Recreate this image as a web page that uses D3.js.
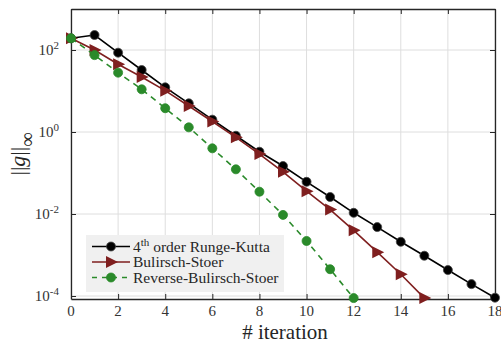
<!DOCTYPE html>
<html>
<head>
<meta charset="utf-8">
<script src="https://cdn.jsdelivr.net/npm/d3@7"></script>
<style>
  body { margin: 0; background: #fff; }
</style>
</head>
<body>
<svg width="501" height="345"></svg>
<script>
const iterRK = d3.range(0, 19);
const valRK = [193, 232, 86, 32.5, 12.3, 5.0, 2.0, 0.81, 0.33, 0.148, 0.061, 0.026, 0.0107, 0.0048, 0.0021, 0.00096, 0.00043, 0.000195, 0.000091];
const iterBS = d3.range(0, 16);
const valBS = [193, 100, 45, 22, 10.2, 4.3, 1.8, 0.74, 0.29, 0.107, 0.036, 0.0128, 0.0040, 0.00117, 0.00034, 0.000089];
const iterRBS = d3.range(0, 13);
const valRBS = [193, 75, 28, 11, 3.8, 1.3, 0.40, 0.123, 0.035, 0.0095, 0.0022, 0.00045, 0.000089];
const xTicks = [0, 2, 4, 6, 8, 10, 12, 14, 16, 18];
const yTickExp = [-4, -2, 0, 2];
const seriesNames = ['order Runge-Kutta', 'Bulirsch-Stoer', 'Reverse-Bulirsch-Stoer'];

const svg = d3.select('svg');
const margin = {top: 9, right: 6, bottom: 46, left: 71};
const width = 495 - margin.left;
const height = 299 - margin.top;

const x = d3.scaleLinear().domain([0, 18]).range([0, width]);
const y = d3.scaleLog().domain([Math.pow(10, -4.073), 1000]).range([height, 0]);

const g = svg.append('g').attr('transform', `translate(${margin.left},${margin.top})`);

// grid
g.append('g').selectAll('line').data(xTicks).enter().append('line')
  .attr('x1', d => x(d)).attr('x2', d => x(d)).attr('y1', 0).attr('y2', height)
  .attr('stroke', '#dedede').attr('stroke-width', 1);
g.append('g').selectAll('line').data(yTickExp).enter().append('line')
  .attr('y1', d => y(Math.pow(10, d))).attr('y2', d => y(Math.pow(10, d))).attr('x1', 0).attr('x2', width)
  .attr('stroke', '#dedede').attr('stroke-width', 1);

// axes (ticks only, labels drawn separately)
const xAxis = d3.axisBottom(x).tickValues(xTicks).tickSizeInner(-5).tickSizeOuter(0).tickFormat('');
g.append('g').attr('transform', `translate(0,${height})`).call(xAxis);
const xTop = d3.axisTop(x).tickValues(xTicks).tickSizeInner(-5).tickSizeOuter(0).tickFormat('');
g.append('g').call(xTop);
const yAxis = d3.axisLeft(y).tickValues(yTickExp.map(e => Math.pow(10, e))).tickSizeInner(-5).tickSizeOuter(0).tickFormat('');
g.append('g').call(yAxis);
const yRight = d3.axisRight(y).tickValues(yTickExp.map(e => Math.pow(10, e))).tickSizeInner(-5).tickSizeOuter(0).tickFormat('');
g.append('g').attr('transform', `translate(${width},0)`).call(yRight);

g.selectAll('.domain').attr('stroke', '#262626').attr('stroke-width', 1.3);
g.selectAll('.tick line').attr('stroke', '#262626');
g.selectAll('.tick text').remove();

function txt(parent, xx, yy, size) {
  return parent.append('text').attr('x', xx).attr('y', yy)
    .attr('font-family', 'Liberation Serif').style('font-family', '"Liberation Serif"')
    .attr('font-size', size);
}

// x tick labels
xTicks.forEach(t => {
  txt(svg, margin.left + x(t), margin.top + height + 17, 15)
    .attr('text-anchor', 'middle').attr('fill', '#333').text(t);
});

// y tick labels 10^e
yTickExp.forEach(e => {
  const t = txt(svg, margin.left - 12, margin.top + y(Math.pow(10, e)) + 5, 15)
    .attr('text-anchor', 'end').attr('fill', '#333');
  t.append('tspan').text('10');
  t.append('tspan').attr('dy', -6).attr('font-size', 11).text(e);
});

// axis labels
txt(svg, margin.left + width / 2 + 2, 339, 21)
  .attr('text-anchor', 'middle').attr('fill', '#262626').text('# iteration');
const yl = txt(svg, 0, 0, 22).attr('transform', `translate(25,${margin.top + height / 2}) rotate(-90)`)
  .attr('text-anchor', 'middle').attr('fill', '#262626');
yl.append('tspan').text('||');
yl.append('tspan').attr('font-style', 'italic').text('g');
yl.append('tspan').text('||');
yl.append('tspan').attr('dy', 9).attr('font-size', 20).text('∞');

const line = d3.line().x(d => x(d[0])).y(d => y(d[1]));
const triangle = 'M-5,-6L7,0L-5,6Z';

const series = [
  {it: iterRK, v: valRK, color: '#000000', dash: null, marker: 'circle'},
  {it: iterBS, v: valBS, color: '#7f1f1f', dash: null, marker: 'tri'},
  {it: iterRBS, v: valRBS, color: '#2a8a2a', dash: '6,5', marker: 'dot'}
];

series.forEach(s => {
  const pts = s.it.map((d, i) => [d, s.v[i]]);
  g.append('path').datum(pts).attr('d', line).attr('fill', 'none')
    .attr('stroke', s.color).attr('stroke-width', 1.6).attr('stroke-dasharray', s.dash);
  const m = g.append('g').selectAll('.m').data(pts).enter();
  if (s.marker === 'tri') {
    m.append('path').attr('d', triangle)
      .attr('transform', d => `translate(${x(d[0])},${y(d[1])})`).attr('fill', s.color);
  } else {
    m.append('circle').attr('cx', d => x(d[0])).attr('cy', d => y(d[1])).attr('r', 4.5)
      .attr('fill', s.color).attr('stroke', s.marker === 'circle' ? '#444' : s.color).attr('stroke-width', 0.8);
  }
});

// legend
const lg = svg.append('g').attr('transform', 'translate(86,235)');
lg.append('rect').attr('width', 198).attr('height', 57).attr('fill', '#f0f0f0');
series.forEach((s, i) => {
  const yy = 11.5 + i * 15.5;
  lg.append('line').attr('x1', 6).attr('x2', 44).attr('y1', yy).attr('y2', yy)
    .attr('stroke', s.color).attr('stroke-width', 1.6).attr('stroke-dasharray', s.dash ? '5,5' : null);
  if (s.marker === 'tri') {
    lg.append('path').attr('d', triangle).attr('transform', `translate(25,${yy})`).attr('fill', s.color);
  } else {
    lg.append('circle').attr('cx', 25).attr('cy', yy).attr('r', 4.5).attr('fill', s.color)
      .attr('stroke', s.marker === 'circle' ? '#444' : s.color).attr('stroke-width', 0.8);
  }
  const t = txt(lg, 47, yy + 5, 15.5).attr('fill', '#262626');
  if (i === 0) {
    t.append('tspan').text('4');
    t.append('tspan').attr('dy', -6).attr('font-size', 11).text('th');
    t.append('tspan').attr('dy', 6).text(' ' + seriesNames[i]);
  } else {
    t.text(seriesNames[i]);
  }
});
</script>
</body>
</html>
